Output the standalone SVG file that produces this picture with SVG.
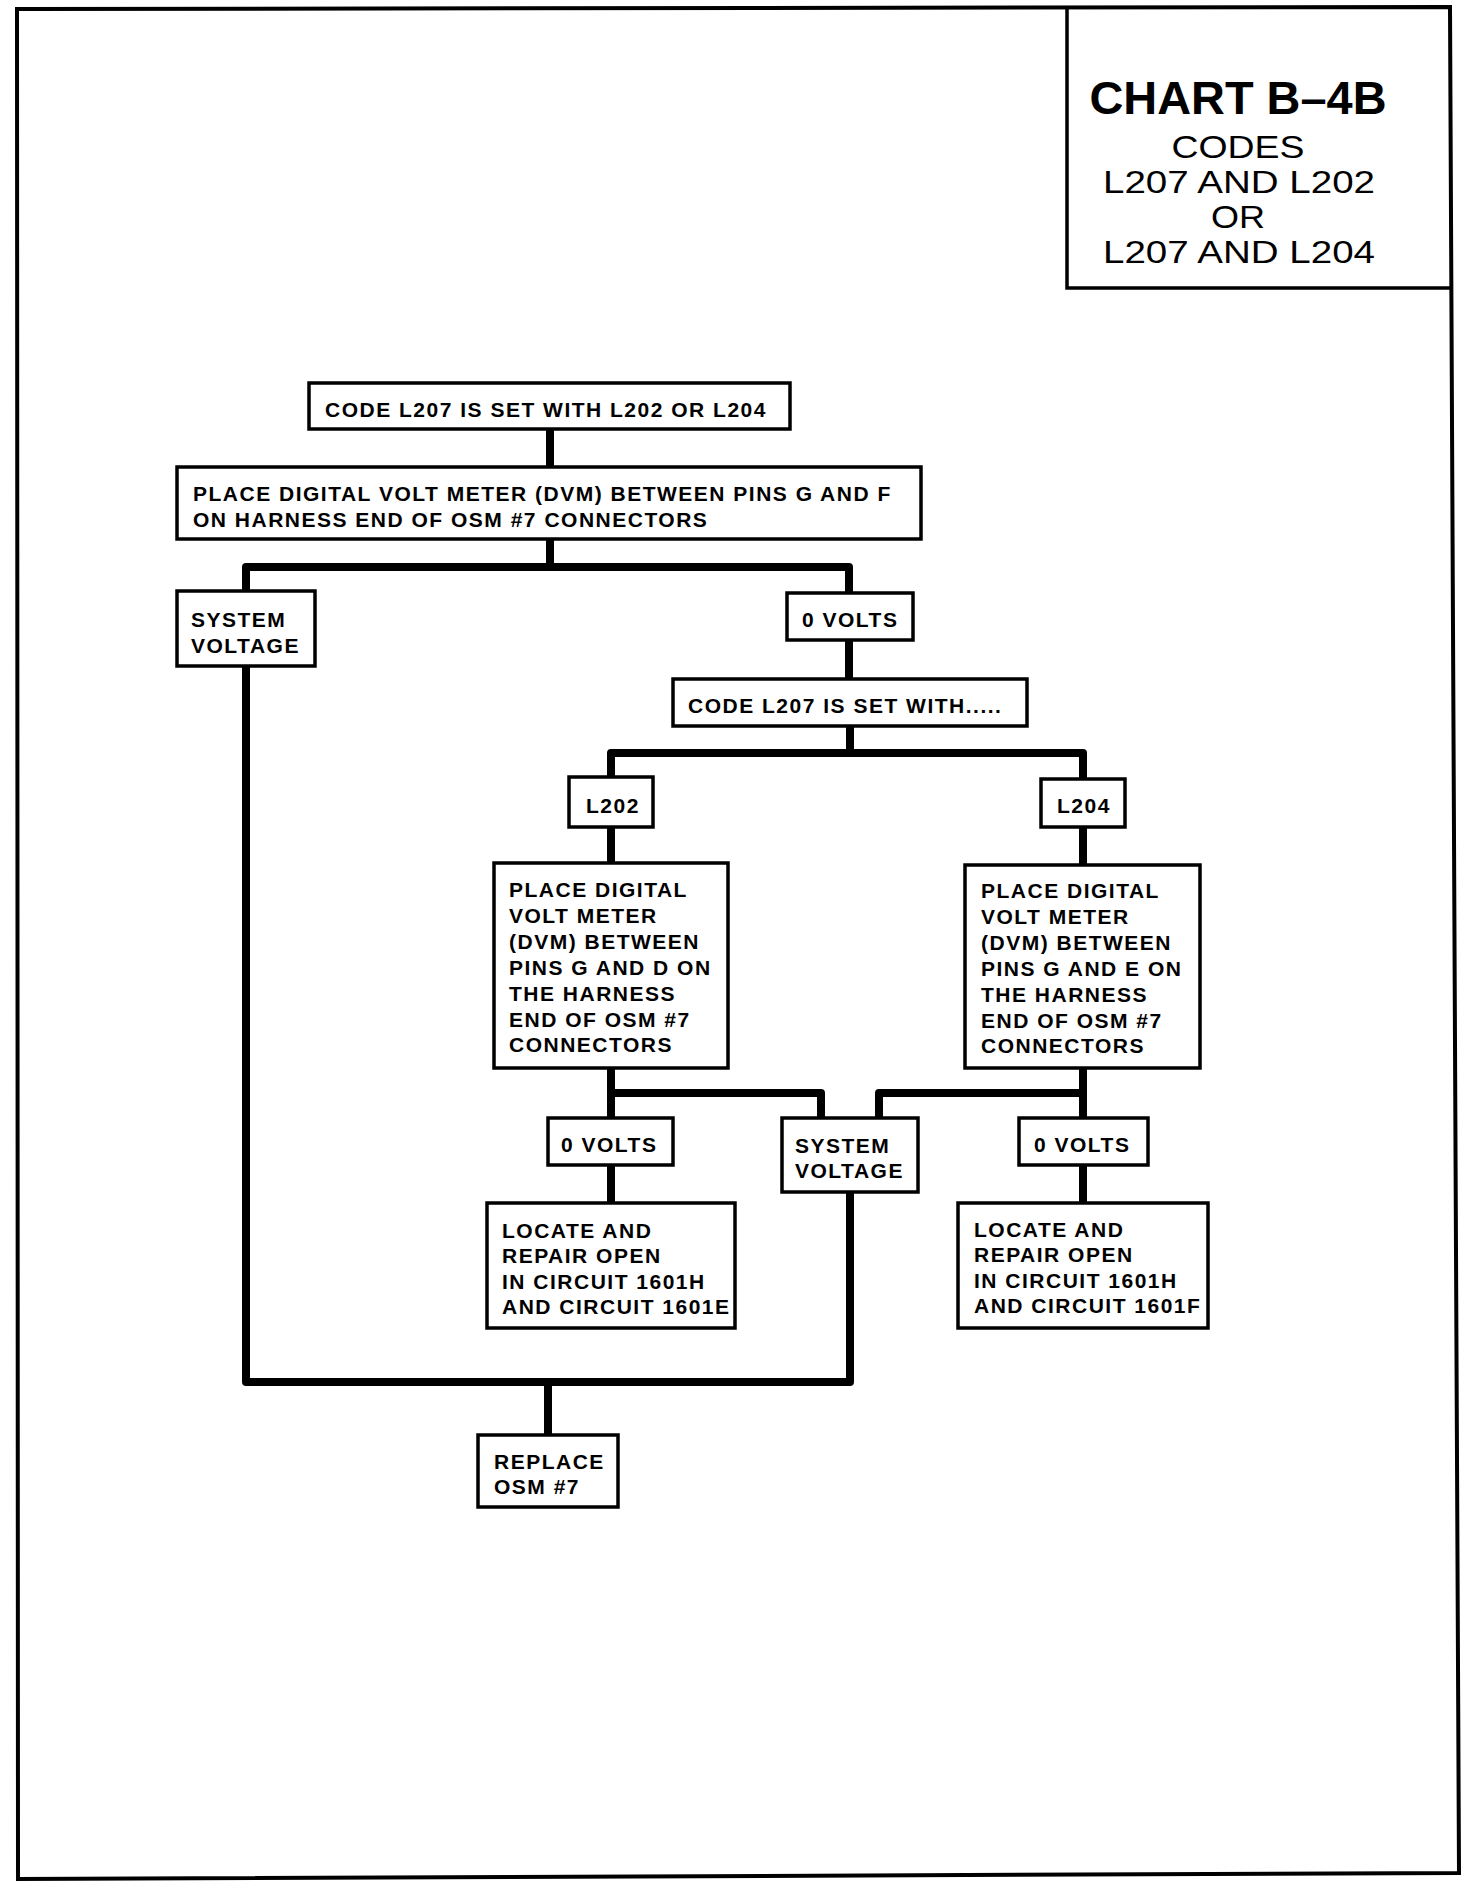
<svg xmlns="http://www.w3.org/2000/svg" width="1472" height="1886" viewBox="0 0 1472 1886">
<style>
.box{fill:#fff;stroke:#000;stroke-width:3.5}
.t{font-family:"Liberation Sans",Arial,sans-serif;font-weight:bold;font-size:21px;letter-spacing:1.5px;fill:#000}
.conn path{fill:none;stroke:#000;stroke-width:8;stroke-linejoin:round}
.title{font-family:"Liberation Sans",Arial,sans-serif;fill:#000;text-anchor:middle}
</style>
<rect x="0" y="0" width="1472" height="1886" fill="#fff"/>
<polygon points="17,9 1450,7 1459,1873 18,1879" fill="none" stroke="#000" stroke-width="4"/>
<g id="title">
<path d="M1067 7 V288 H1452" fill="none" stroke="#000" stroke-width="3.5"/>
<text class="title" x="1238" y="114" font-size="46" font-weight="bold" textLength="297" lengthAdjust="spacingAndGlyphs">CHART B–4B</text>
<text class="title" x="1238" y="158" font-size="31" textLength="133" lengthAdjust="spacingAndGlyphs">CODES</text>
<text class="title" x="1239" y="193" font-size="31" textLength="272" lengthAdjust="spacingAndGlyphs">L207 AND L202</text>
<text class="title" x="1238" y="228" font-size="31" textLength="54" lengthAdjust="spacingAndGlyphs">OR</text>
<text class="title" x="1239" y="263" font-size="31" textLength="272" lengthAdjust="spacingAndGlyphs">L207 AND L204</text>
</g>
<g class="conn" id="connectors">
<path d="M550 429 V467"/>
<path d="M550 539 V567"/>
<path d="M246 591 V567 H849 V593"/>
<path d="M849 640 V679"/>
<path d="M850 726 V753"/>
<path d="M611 777 V753 H1083 V779"/>
<path d="M611 827 V863"/>
<path d="M1083 827 V865"/>
<path d="M611 1068 V1118"/>
<path d="M611 1093 H821 V1118"/>
<path d="M1083 1068 V1118"/>
<path d="M1083 1093 H879 V1118"/>
<path d="M611 1165 V1203"/>
<path d="M1083 1165 V1203"/>
<path d="M246 666 V1382 H850 V1192"/>
<path d="M548 1382 V1435"/>
</g>
<g id="n1"><rect class="box" x="309" y="383" width="481" height="46"/>
<text class="t" x="325" y="417">CODE L207 IS SET WITH L202 OR L204</text></g>
<g id="n2"><rect class="box" x="177" y="467" width="744" height="72"/>
<text class="t" x="193" y="501">PLACE DIGITAL VOLT METER (DVM) BETWEEN PINS G AND F</text>
<text class="t" x="193" y="527">ON HARNESS END OF OSM #7 CONNECTORS</text></g>
<g id="n3"><rect class="box" x="177" y="591" width="138" height="75"/>
<text class="t" x="191" y="627">SYSTEM</text>
<text class="t" x="191" y="653">VOLTAGE</text></g>
<g id="n4"><rect class="box" x="787" y="593" width="126" height="47"/>
<text class="t" x="802" y="627">0 VOLTS</text></g>
<g id="n5"><rect class="box" x="673" y="679" width="354" height="47"/>
<text class="t" x="688" y="713">CODE L207 IS SET WITH.....</text></g>
<g id="n6"><rect class="box" x="569" y="777" width="84" height="50"/>
<text class="t" x="586" y="813">L202</text></g>
<g id="n7"><rect class="box" x="1041" y="779" width="84" height="48"/>
<text class="t" x="1057" y="813">L204</text></g>
<g id="n8"><rect class="box" x="494" y="863" width="234" height="205"/>
<text class="t" x="509" y="897">PLACE DIGITAL</text>
<text class="t" x="509" y="923">VOLT METER</text>
<text class="t" x="509" y="949">(DVM) BETWEEN</text>
<text class="t" x="509" y="975">PINS G AND D ON</text>
<text class="t" x="509" y="1001">THE HARNESS</text>
<text class="t" x="509" y="1027">END OF OSM #7</text>
<text class="t" x="509" y="1052">CONNECTORS</text></g>
<g id="n9"><rect class="box" x="965" y="865" width="235" height="203"/>
<text class="t" x="981" y="898">PLACE DIGITAL</text>
<text class="t" x="981" y="924">VOLT METER</text>
<text class="t" x="981" y="950">(DVM) BETWEEN</text>
<text class="t" x="981" y="976">PINS G AND E ON</text>
<text class="t" x="981" y="1002">THE HARNESS</text>
<text class="t" x="981" y="1028">END OF OSM #7</text>
<text class="t" x="981" y="1053">CONNECTORS</text></g>
<g id="n10"><rect class="box" x="548" y="1118" width="125" height="47"/>
<text class="t" x="561" y="1152">0 VOLTS</text></g>
<g id="n11"><rect class="box" x="782" y="1118" width="136" height="74"/>
<text class="t" x="795" y="1153">SYSTEM</text>
<text class="t" x="795" y="1178">VOLTAGE</text></g>
<g id="n12"><rect class="box" x="1019" y="1118" width="129" height="47"/>
<text class="t" x="1034" y="1152">0 VOLTS</text></g>
<g id="n13"><rect class="box" x="487" y="1203" width="248" height="125"/>
<text class="t" x="502" y="1238">LOCATE AND</text>
<text class="t" x="502" y="1263">REPAIR OPEN</text>
<text class="t" x="502" y="1289">IN CIRCUIT 1601H</text>
<text class="t" x="502" y="1314">AND CIRCUIT 1601E</text></g>
<g id="n14"><rect class="box" x="958" y="1203" width="250" height="125"/>
<text class="t" x="974" y="1237">LOCATE AND</text>
<text class="t" x="974" y="1262">REPAIR OPEN</text>
<text class="t" x="974" y="1288">IN CIRCUIT 1601H</text>
<text class="t" x="974" y="1313">AND CIRCUIT 1601F</text></g>
<g id="n15"><rect class="box" x="478" y="1435" width="140" height="72"/>
<text class="t" x="494" y="1469">REPLACE</text>
<text class="t" x="494" y="1494">OSM #7</text></g>
</svg>
